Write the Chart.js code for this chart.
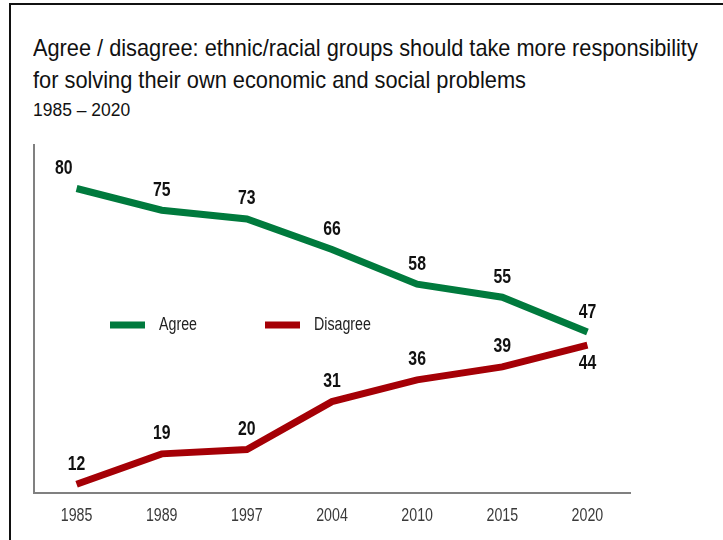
<!DOCTYPE html>
<html>
<head>
<meta charset="utf-8">
<script src="https://cdn.jsdelivr.net/npm/chart.js@4.4.1/dist/chart.umd.min.js"></script>
<style>
  body { margin: 0; background: #fff; }
  #frame { position: absolute; left: 9px; top: 3px; width: 720px; height: 560px; border-left: 2px solid #111; border-top: 2px solid #111; }
  .head { position: absolute; left: 33px; font-family: "Liberation Sans", Arial, sans-serif; color: #111; white-space: nowrap; transform-origin: 0 0; }
  #t1 { top: 34px; font-size: 24px; }
  #t2 { top: 66px; font-size: 24px; }
  #subtitle { top: 100px; font-size: 18px; }
  #wrap { position: absolute; left: 0; top: 0; width: 723px; height: 540px; }
</style>
</head>
<body>
<div id="frame"></div>
<div class="head" id="t1">Agree / disagree: ethnic/racial groups should take more responsibility</div>
<div class="head" id="t2">for solving their own economic and social problems</div>
<div class="head" id="subtitle">1985 – 2020</div>
<div id="wrap"><canvas id="chart"></canvas></div>
<script>
const years = ['1985', '1989', '1997', '2004', '2010', '2015', '2020'];
const agree = [80, 75, 73, 66, 58, 55, 47];
const disagree = [12, 19, 20, 31, 36, 39, 44];
const seriesNames = ['Agree', 'Disagree'];
const seriesColors = ['#007a3d', '#a50006'];

// the original uses a narrow face; squeeze Liberation Sans to match
const squeeze = 0.79;
const sans = '"Liberation Sans", Arial, sans-serif';

function fitHead(id, target) {
  const el = document.getElementById(id);
  el.style.transform = 'scaleX(' + (target / el.offsetWidth) + ')';
}
fitHead('t1', 665);
fitHead('t2', 493);
fitHead('subtitle', 97);

function narrowText(ctx, text, x, y) {
  ctx.save();
  ctx.translate(x, y);
  ctx.scale(squeeze, 1);
  ctx.fillText(text, 0, 0);
  ctx.restore();
}

// year labels under the x axis, placed by the category scale
const yearTicks = {
  id: 'yearTicks',
  afterDraw(chart) {
    const ctx = chart.ctx;
    const sx = chart.scales.x;
    ctx.save();
    ctx.font = '18px ' + sans;
    ctx.fillStyle = '#3a3a3a';
    ctx.textAlign = 'center';
    ctx.textBaseline = 'middle';
    sx.ticks.forEach((t, i) => {
      narrowText(ctx, sx.getLabelForValue(t.value), sx.getPixelForTick(i), chart.chartArea.bottom + 23);
    });
    ctx.restore();
  }
};

// value labels above each point; the lower series drops below when the two get close
const valueLabels = {
  id: 'valueLabels',
  afterDatasetsDraw(chart) {
    const ctx = chart.ctx;
    ctx.save();
    ctx.font = 'bold 20px ' + sans;
    ctx.fillStyle = '#111';
    ctx.textBaseline = 'middle';
    chart.data.datasets.forEach((ds, di) => {
      const other = chart.data.datasets[1 - di].data;
      chart.getDatasetMeta(di).data.forEach((pt, i) => {
        const v = ds.data[i];
        const below = v < other[i] && other[i] - v < 5;
        let x = pt.x;
        ctx.textAlign = 'center';
        if (i === 0 && di === 0) { ctx.textAlign = 'right'; x = pt.x - 4; }
        const y = below ? pt.y + 18 : pt.y - 20;
        narrowText(ctx, String(v), x, y);
      });
    });
    ctx.restore();
  }
};

// legend drawn inside the plot, in the gap between the lines
const innerLegend = {
  id: 'innerLegend',
  afterDraw(chart) {
    const ctx = chart.ctx;
    const area = chart.chartArea;
    const y = area.top + 180;
    let x = area.left + 76;
    ctx.save();
    ctx.font = '18px ' + sans;
    ctx.textBaseline = 'middle';
    ctx.textAlign = 'left';
    chart.data.datasets.forEach((ds) => {
      ctx.fillStyle = ds.borderColor;
      ctx.fillRect(x, y - 3.5, 35, 7);
      ctx.fillStyle = '#222';
      narrowText(ctx, ds.label, x + 49, y);
      x += 155;
    });
    ctx.restore();
  }
};

new Chart(document.getElementById('chart'), {
  type: 'line',
  data: {
    labels: years,
    datasets: [
      { label: seriesNames[0], data: agree, borderColor: seriesColors[0], backgroundColor: seriesColors[0] },
      { label: seriesNames[1], data: disagree, borderColor: seriesColors[1], backgroundColor: seriesColors[1] }
    ]
  },
  options: {
    responsive: true,
    maintainAspectRatio: false,
    animation: false,
    layout: { padding: { left: 26, top: 145, right: 93, bottom: 39 } },
    elements: {
      line: { borderWidth: 7, tension: 0, borderCapStyle: 'butt', borderJoinStyle: 'miter' },
      point: { radius: 0, hoverRadius: 0 }
    },
    plugins: {
      legend: { display: false },
      tooltip: { enabled: false }
    },
    scales: {
      x: {
        offset: true,
        grid: { display: false },
        border: { display: true, color: '#808080', width: 2 },
        ticks: { display: false }
      },
      y: {
        min: 10,
        max: 90,
        grid: { display: false },
        border: { display: true, color: '#808080', width: 2 },
        ticks: { display: false }
      }
    }
  },
  plugins: [yearTicks, valueLabels, innerLegend]
});
</script>
</body>
</html>
